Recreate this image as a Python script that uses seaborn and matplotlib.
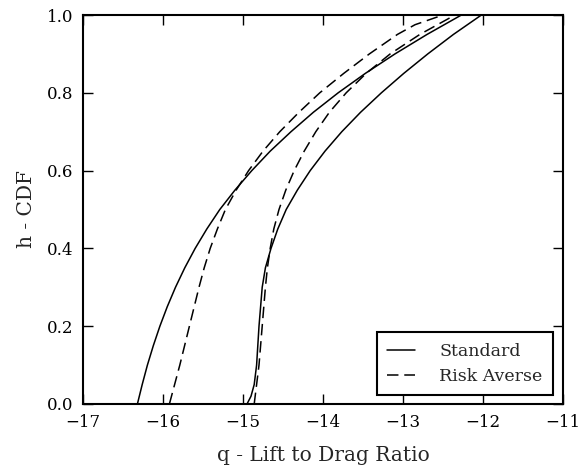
import matplotlib
matplotlib.use("Agg")
import matplotlib.pyplot as plt
from matplotlib.lines import Line2D
import seaborn as sns
import pandas as pd

# ---------------- data ----------------
# Standard, left curve
std_a_h = [0.0, 0.05, 0.1, 0.15, 0.2, 0.25, 0.3, 0.35, 0.4, 0.45, 0.5, 0.55, 0.6, 0.65, 0.7,
           0.75, 0.8, 0.85, 0.9, 0.95, 1.0]
std_a_q = [-16.32, -16.26, -16.195, -16.121, -16.039, -15.947, -15.844, -15.728, -15.598,
           -15.452, -15.29, -15.10, -14.89, -14.66, -14.40, -14.12, -13.81, -13.47, -13.10,
           -12.70, -12.27]
# Standard, right curve
std_b_h = [0.0, 0.01, 0.02, 0.05, 0.1, 0.15, 0.2, 0.25, 0.3, 0.35, 0.4, 0.45, 0.5, 0.55, 0.6,
           0.65, 0.7, 0.75, 0.8, 0.85, 0.9, 0.95, 1.0]
std_b_q = [-14.95, -14.925, -14.90, -14.86, -14.83, -14.815, -14.80, -14.78, -14.76, -14.72,
           -14.65, -14.565, -14.46, -14.32, -14.16, -13.975, -13.765, -13.53, -13.27, -12.99,
           -12.69, -12.37, -12.02]
# Risk averse, left curve
ra_a_h = [0.0, 0.05, 0.1, 0.15, 0.2, 0.25, 0.3, 0.35, 0.4, 0.45, 0.5, 0.55, 0.6, 0.65, 0.7,
          0.75, 0.8, 0.85, 0.9, 0.95, 0.975, 1.0]
ra_a_q = [-15.92, -15.855, -15.79, -15.73, -15.67, -15.61, -15.55, -15.485, -15.41, -15.32,
          -15.22, -15.085, -14.93, -14.75, -14.54, -14.30, -14.04, -13.74, -13.42, -13.07,
          -12.85, -12.50]
# Risk averse, right curve
ra_b_h = [0.0, 0.05, 0.1, 0.15, 0.2, 0.25, 0.3, 0.35, 0.4, 0.45, 0.5, 0.55, 0.6, 0.65, 0.7,
          0.75, 0.8, 0.85, 0.9, 0.95, 1.0]
ra_b_q = [-14.86, -14.83, -14.80, -14.78, -14.76, -14.74, -14.72, -14.695, -14.66, -14.615,
          -14.55, -14.465, -14.36, -14.235, -14.09, -13.92, -13.71, -13.46, -13.16, -12.79,
          -12.35]

series_labels = ["Standard", "Risk Averse"]
x_ticks = [-17, -16, -15, -14, -13, -12, -11]
y_ticks = [0.0, 0.2, 0.4, 0.6, 0.8, 1.0]
x_label = "q - Lift to Drag Ratio"
y_label = "h - CDF"

# ---------------- build long table ----------------
frames = []
for name, kind, q, h in [("std_a", "Standard", std_a_q, std_a_h),
                         ("std_b", "Standard", std_b_q, std_b_h),
                         ("ra_a", "Risk Averse", ra_a_q, ra_a_h),
                         ("ra_b", "Risk Averse", ra_b_q, ra_b_h)]:
    frames.append(pd.DataFrame({"q": q, "h": h, "curve": name, "kind": kind}))
df = pd.concat(frames, ignore_index=True)

# ---------------- style ----------------
sns.set_theme(style="ticks")
plt.rcParams['font.family'] = ['DejaVu Serif']
plt.rcParams['mathtext.fontset'] = 'dejavuserif'

LW = 1.1
DASH = (7.5, 3.8)

fig = plt.figure(figsize=(5.82, 4.67), dpi=100)
ax = fig.add_axes([83 / 582, 63 / 467, 480 / 582, 389 / 467])

sns.lineplot(data=df, x="q", y="h", units="curve", style="kind",
             style_order=series_labels, dashes={"Standard": "", "Risk Averse": DASH},
             estimator=None, sort=False, color="black", lw=LW, legend=False, ax=ax)

ax.set_xlim(-17, -11)
ax.set_ylim(0, 1)
ax.set_xticks(x_ticks)
ax.set_yticks(y_ticks)
ax.set_yticklabels([f"{v:.1f}" for v in y_ticks])
ax.tick_params(direction="in", length=7.5, width=1, top=True, right=True,
               labelsize=12, pad=7, colors="black")
for s in ax.spines.values():
    s.set_visible(True)
    s.set_linewidth(1.5)
    s.set_color("black")

ax.set_xlabel(x_label, fontsize=14.5, labelpad=11)
ax.set_ylabel(y_label, fontsize=14.5, labelpad=8)

handles = [Line2D([], [], color="black", lw=LW),
           Line2D([], [], color="black", lw=LW, dashes=DASH)]
leg = ax.legend(handles, series_labels, loc="lower right", bbox_to_anchor=(0.979, 0.023),
                borderaxespad=0, fontsize=12.5, handlelength=1.6, handletextpad=1.4,
                borderpad=0.6, labelspacing=0.45, fancybox=False, framealpha=1,
                edgecolor="black")
leg.get_frame().set_linewidth(1.5)

fig.savefig("out.png", dpi=100)
